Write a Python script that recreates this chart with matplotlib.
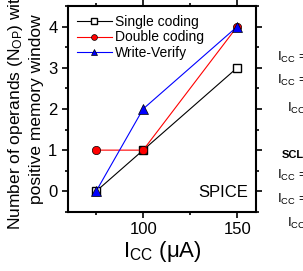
import matplotlib
matplotlib.use('Agg')
import matplotlib.pyplot as plt
from matplotlib.ticker import MultipleLocator

plt.rcParams['font.family'] = ['Liberation Sans', 'DejaVu Sans']
plt.rcParams['mathtext.fontset'] = 'custom'
plt.rcParams['mathtext.rm'] = 'Liberation Sans'
plt.rcParams['mathtext.it'] = 'Liberation Sans'

icc = [75, 100, 150]
single = [0, 1, 3]
double = [1, 1, 4]
verify = [0, 2, 4]

fig = plt.figure(figsize=(3.03, 2.71), dpi=100)
ax = fig.add_axes([0.224, 0.218, 0.621, 0.760])

ax.plot(icc, single, color='black', lw=0.8, marker='s', ms=6, mfc='white', mec='black',
        label='Single coding', zorder=3)
ax.plot(icc, double, color='red', lw=0.8, marker='o', ms=6, mfc='red', mec='black', mew=0.5,
        label='Double coding', zorder=4)
ax.plot(icc, verify, color='blue', lw=0.8, marker='^', ms=7, mfc='blue', mec='black', mew=0.5,
        label='Write-Verify', zorder=5)

ax.set_xlim(60, 160)
ax.set_ylim(-0.5, 4.5)
ax.xaxis.set_major_locator(MultipleLocator(50))
ax.xaxis.set_minor_locator(MultipleLocator(25))
ax.yaxis.set_major_locator(MultipleLocator(1))
ax.yaxis.set_minor_locator(MultipleLocator(0.5))
ax.tick_params(which='both', direction='out', top=True, right=True, width=1.2, labelsize=12)
ax.tick_params(which='major', length=4)
ax.tick_params(which='minor', length=2.5)
for s in ax.spines.values():
    s.set_linewidth(1.5)

ax.set_xlabel(r'I$_{\mathrm{CC}}$ ($\mathrm{\mu}$A)', fontsize=16, labelpad=1)
ax.set_ylabel('Number of operands (N$_{\\mathrm{OP}}$) with\npositive memory window',
              fontsize=12.5, labelpad=3, linespacing=1.3)

ax.legend(loc='upper left', frameon=False, fontsize=10, handlelength=2.5, handletextpad=0.25,
          borderaxespad=0.35, labelspacing=0.1, borderpad=0.3, markerscale=0.7)
ax.text(0.96, 0.06, 'SPICE', transform=ax.transAxes, ha='right', va='bottom', fontsize=12)

# cut-off text from the neighbouring panel
side = ['I$_{\\mathrm{CC}}$ =', 'I$_{\\mathrm{CC}}$ =', 'I$_{\\mathrm{CC}}$',
        'I$_{\\mathrm{CC}}$ =', 'I$_{\\mathrm{CC}}$ =', 'I$_{\\mathrm{CC}}$']
side_x = [277, 277, 287, 277, 277, 287]
side_y = [57, 80, 108, 175, 199, 223]
for t, x, y in zip(side, side_x, side_y):
    fig.text(x / 303, 1 - y / 271, t, fontsize=9.5, va='center', ha='left')
fig.text(282 / 303, 1 - 155 / 271, 'SCL', fontsize=8, fontweight='bold', va='center', ha='left')

fig.savefig('out.png', dpi=100)
